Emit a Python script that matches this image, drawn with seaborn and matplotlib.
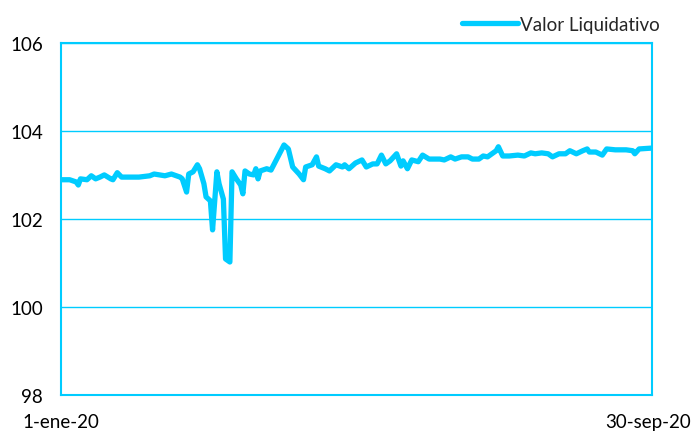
import pandas as pd
import numpy as np
import seaborn as sns
import matplotlib.pyplot as plt
import matplotlib.transforms as mtransforms

sns.set_theme(style='white')
plt.rcParams['font.family'] = ['Lato', 'DejaVu Sans']

# values
dates = ['2020-01-01', '2020-01-05', '2020-01-08', '2020-01-09', '2020-01-10',
         '2020-01-13', '2020-01-15', '2020-01-17', '2020-01-19', '2020-01-21',
         '2020-01-24', '2020-01-25', '2020-01-27', '2020-01-29', '2020-02-02',
         '2020-02-06', '2020-02-11', '2020-02-13', '2020-02-18', '2020-02-21',
         '2020-02-25', '2020-02-26', '2020-02-28', '2020-02-29', '2020-03-02',
         '2020-03-04', '2020-03-05', '2020-03-07', '2020-03-08', '2020-03-10',
         '2020-03-11', '2020-03-13', '2020-03-14', '2020-03-16', '2020-03-17',
         '2020-03-19', '2020-03-20', '2020-03-22', '2020-03-24', '2020-03-25',
         '2020-03-26', '2020-03-28', '2020-03-30', '2020-03-31', '2020-04-01',
         '2020-04-02', '2020-04-05', '2020-04-07', '2020-04-13', '2020-04-15',
         '2020-04-17', '2020-04-20', '2020-04-22', '2020-04-23', '2020-04-26',
         '2020-04-28', '2020-04-29', '2020-05-02', '2020-05-04', '2020-05-07',
         '2020-05-10', '2020-05-11', '2020-05-13', '2020-05-16', '2020-05-19',
         '2020-05-21', '2020-05-24', '2020-05-26', '2020-05-28', '2020-05-30',
         '2020-06-01', '2020-06-04', '2020-06-06', '2020-06-07', '2020-06-09',
         '2020-06-11', '2020-06-14', '2020-06-16', '2020-06-19', '2020-06-24',
         '2020-06-26', '2020-06-29', '2020-07-01', '2020-07-04', '2020-07-07',
         '2020-07-09', '2020-07-12', '2020-07-14', '2020-07-16', '2020-07-18',
         '2020-07-20', '2020-07-21', '2020-07-23', '2020-07-26', '2020-07-30',
         '2020-08-02', '2020-08-05', '2020-08-07', '2020-08-10', '2020-08-13',
         '2020-08-15', '2020-08-18', '2020-08-21', '2020-08-23', '2020-08-26',
         '2020-08-29', '2020-08-31', '2020-09-01', '2020-09-04', '2020-09-07',
         '2020-09-09', '2020-09-13', '2020-09-18', '2020-09-21', '2020-09-22',
         '2020-09-24', '2020-09-30']
valor = [102.89, 102.89, 102.84, 102.77, 102.91,
         102.89, 102.98, 102.91, 102.95, 103.00,
         102.91, 102.89, 103.05, 102.95, 102.95,
         102.95, 102.98, 103.02, 102.98, 103.02,
         102.95, 102.91, 102.61, 103.02, 103.07,
         103.23, 103.14, 102.80, 102.50, 102.41,
         101.75, 103.07, 102.80, 102.45, 101.09,
         101.02, 103.07, 102.91, 102.77, 102.57,
         103.09, 103.02, 103.00, 103.14, 102.91,
         103.09, 103.14, 103.11, 103.68, 103.59,
         103.18, 103.02, 102.89, 103.18, 103.23,
         103.41, 103.20, 103.14, 103.09, 103.23,
         103.18, 103.23, 103.14, 103.27, 103.34,
         103.18, 103.25, 103.25, 103.45, 103.25,
         103.32, 103.48, 103.20, 103.32, 103.14,
         103.34, 103.30, 103.45, 103.36, 103.36,
         103.34, 103.41, 103.36, 103.41, 103.41,
         103.36, 103.36, 103.43, 103.41, 103.48,
         103.55, 103.64, 103.43, 103.43, 103.45,
         103.43, 103.50, 103.48, 103.50, 103.48,
         103.41, 103.48, 103.48, 103.55, 103.48,
         103.55, 103.59, 103.52, 103.52, 103.45,
         103.59, 103.57, 103.57, 103.55, 103.48,
         103.59, 103.61]

df = pd.DataFrame({'fecha': pd.to_datetime(dates), 'Valor Liquidativo': valor})

cyan = '#00CCFF'

fig = plt.figure(figsize=(6.93, 4.35), dpi=100)
ax = fig.add_axes([0.088, 0.09, 0.853, 0.809])

sns.lineplot(data=df, x='fecha', y='Valor Liquidativo', ax=ax,
             color=cyan, linewidth=3.8, label='Valor Liquidativo', legend=False)

ax.set_ylim(98, 106)
ax.set_yticks([98, 100, 102, 104, 106])
ax.set_xlim(pd.Timestamp('2020-01-01'), pd.Timestamp('2020-09-30'))
ax.set_xticks([pd.Timestamp('2020-01-01'), pd.Timestamp('2020-09-30')])
ax.set_xticklabels(['1-ene-20', '30-sep-20'])
ax.yaxis.grid(True, color=cyan, linewidth=1.0)
ax.xaxis.grid(False)
ax.set_xlabel('')
ax.set_ylabel('')
ax.tick_params(axis='both', length=0, labelsize=13.5, colors='black')
ax.tick_params(axis='y', pad=13)
ax.tick_params(axis='x', pad=13)
for sp in ax.spines.values():
    sp.set_color(cyan)
    sp.set_linewidth(1.5)

# nudge the last date label so it stays inside the picture
last = ax.get_xticklabels()[-1]
last.set_transform(last.get_transform() +
                   mtransforms.ScaledTranslation(-4 / 100, 0, fig.dpi_scale_trans))

handles, labels = ax.get_legend_handles_labels()
fig.legend(handles, labels, loc='upper right', bbox_to_anchor=(0.977, 1.0),
           frameon=False, fontsize=13.5, handlelength=2.95, handletextpad=0.15)

fig.savefig('out.png', dpi=100)
